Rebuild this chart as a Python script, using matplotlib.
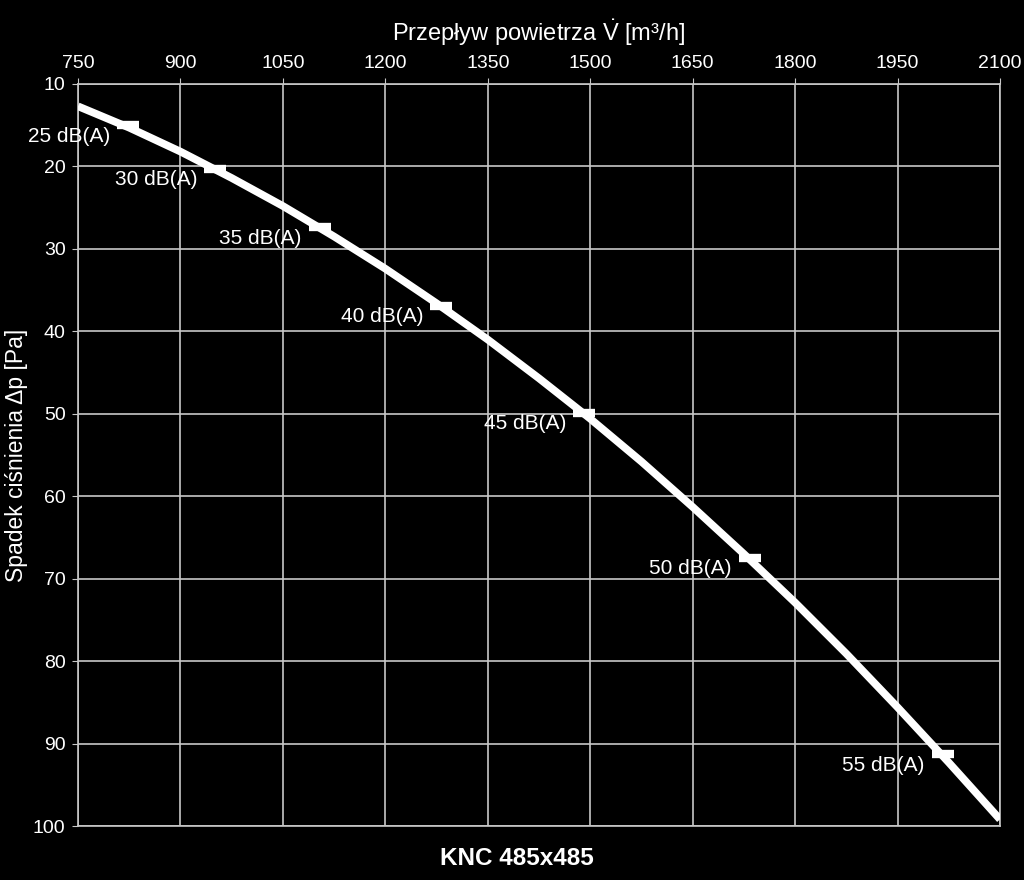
import matplotlib
matplotlib.use('Agg')
import matplotlib.pyplot as plt

plt.rcParams['font.family'] = ['Liberation Sans', 'DejaVu Sans']
plt.rcParams['mathtext.fontset'] = 'custom'
plt.rcParams['mathtext.rm'] = 'Liberation Sans'
plt.rcParams['mathtext.it'] = 'Liberation Sans'

# curve (air flow m3/h -> pressure drop Pa)
flow = [750, 825, 900, 975, 1050, 1125, 1200, 1275, 1350, 1425, 1500,
        1575, 1650, 1725, 1800, 1875, 1950, 2025, 2100]
dp = [12.7, 15.3, 18.2, 21.4, 24.8, 28.5, 32.4, 36.6, 41.0, 45.7, 50.6,
      55.8, 61.3, 67.0, 72.9, 79.1, 85.6, 92.3, 99.2]

# noise level points
pt_flow = [823, 951, 1104, 1282, 1491, 1734, 2016]
pt_dp = [15.0, 20.3, 27.4, 36.9, 49.9, 67.5, 91.3]
pt_lab = ['25 dB(A)', '30 dB(A)', '35 dB(A)', '40 dB(A)', '45 dB(A)', '50 dB(A)', '55 dB(A)']

xticks = [750, 900, 1050, 1200, 1350, 1500, 1650, 1800, 1950, 2100]
yticks = [10, 20, 30, 40, 50, 60, 70, 80, 90, 100]

grid_c = '#c8c8c8'

fig = plt.figure(figsize=(10.24, 8.8), dpi=100, facecolor='black')
ax = fig.add_axes([78/1024, 54/880, 922/1024, 742/880], facecolor='black')

ax.plot(flow, dp, color='white', lw=5.5, solid_capstyle='butt', zorder=3)
ax.plot(pt_flow, pt_dp, ls='none', marker='_', ms=16, mew=6, color='white', zorder=4)
for x, y, t in zip(pt_flow, pt_dp, pt_lab):
    ax.annotate(t, (x, y), xytext=(-13, -1), textcoords='offset points',
                ha='right', va='top', color='white', fontsize=15, zorder=5)

ax.set_xlim(750, 2100)
ax.set_ylim(100, 10)
ax.set_xticks(xticks)
ax.set_yticks(yticks)
ax.xaxis.tick_top()
ax.xaxis.set_label_position('top')
ax.grid(True, color=grid_c, lw=1.2)
for s in ax.spines.values():
    s.set_color(grid_c)
    s.set_linewidth(1.2)
ax.tick_params(colors='white', labelsize=14, length=4, color=grid_c, pad=5)

ax.set_xlabel(r'Przepływ powietrza $\dot{V}$ [m³/h]', color='white', fontsize=17, labelpad=10)
ax.set_ylabel('Spadek ciśnienia Δp [Pa]', color='white', fontsize=16.5)
ax.yaxis.set_label_coords(-50/922, 0.5)
fig.text(517/1024, 1 - 858/880, 'KNC 485x485', color='white', fontsize=17.5,
         fontweight='bold', ha='center', va='center')

fig.savefig('out.png', dpi=100, facecolor='black')
